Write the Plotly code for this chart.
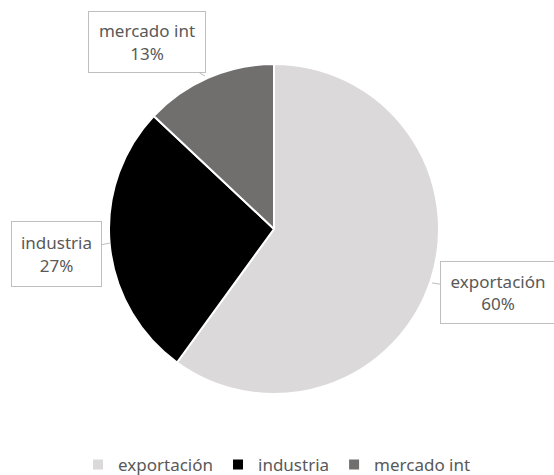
import plotly.graph_objects as go

labels = ["exportación", "industria", "mercado int"]
values = [60, 27, 13]
colors = ["#dbd9d9", "#000000", "#716e6e"]

W, H = 554, 475
cx, cy, r = 274, 229, 165

def px(x):
    return x / W

def py(y):
    return 1 - y / H

fig = go.Figure(go.Pie(
    labels=labels, values=values, sort=False, direction="clockwise", rotation=0,
    marker=dict(colors=colors, line=dict(color="white", width=2)),
    textinfo="none", hoverinfo="label+percent",
    domain=dict(x=[px(cx - r), px(cx + r)], y=[py(cy + r), py(cy - r)]),
))

font = dict(family="Noto Sans, DejaVu Sans, sans-serif", size=17, color="#595959")
callouts = [
    # label idx, tip (px), box center (px), box w, h
    (2, (205, 76), (147, 42), 114, 58),
    (1, (110, 243), (56, 254), 87, 62),
    (0, (432, 283), (498, 292), 112, 59),
]
total = sum(values)
for i, tip, ctr, bw, bh in callouts:
    pct = round(values[i] / total * 100)
    fig.add_annotation(
        x=px(tip[0]), y=py(tip[1]), xref="paper", yref="paper",
        ax=ctr[0] - tip[0], ay=ctr[1] - tip[1],
        text=f"{labels[i]}<br>{pct}%", showarrow=True, arrowhead=0,
        arrowcolor="#bfbfbf", arrowwidth=1, bordercolor="#bfbfbf", borderwidth=1,
        bgcolor="white", width=bw, height=bh, font=font, align="center",
    )

fig.update_layout(
    width=W, height=H, margin=dict(l=0, r=0, t=0, b=0, autoexpand=False),
    paper_bgcolor="white", plot_bgcolor="white",
    showlegend=True,
    legend=dict(orientation="h", x=0.5, xanchor="center",
                y=py(465), yanchor="middle",
                font=font, traceorder="normal"),
)
fig.write_html("out.html", config={"displayModeBar": False},
               post_script="document.body.style.margin='0';")
